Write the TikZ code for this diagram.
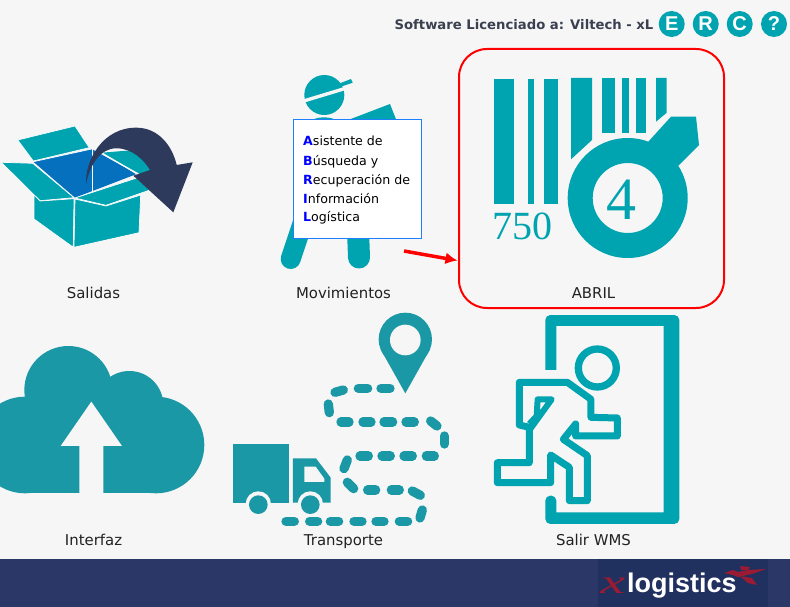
\documentclass[tikz,border=0pt]{standalone}
\usepackage{fontspec}
\usetikzlibrary{arrows.meta}
\setmainfont{DejaVu Sans}
\newfontfamily\serifnum{Liberation Serif}
\newfontfamily\arialf{Liberation Sans}
\definecolor{pagebg}{HTML}{F6F6F6}
\definecolor{tealA}{HTML}{00A3B0}
\definecolor{tealB}{HTML}{1B98A5}
\definecolor{boxblue}{HTML}{0470BE}
\definecolor{darknavy}{HTML}{2D3A5C}
\definecolor{footer}{HTML}{2B3766}
\definecolor{logobg}{HTML}{20305F}
\definecolor{logored}{HTML}{9A1B32}
\definecolor{tipline}{HTML}{1E80FF}
\definecolor{labeltext}{HTML}{222222}
\definecolor{toptext}{HTML}{3A4050}
\tikzset{
  iconlabel/.style={font=\fontsize{14.9}{17}\selectfont,text=labeltext,inner sep=0pt,anchor=base},
  topbtn/.style={circle,fill=tealA,minimum size=26pt,inner sep=0pt,text=white,font=\arialf\bfseries\fontsize{20}{20}\selectfont},
  flap/.style={fill=tealA,draw=white,line width=0.7pt,line join=round},
  routedash/.style={line width=9.3pt,line cap=round,draw=tealB},
  runner/.style={draw=tealA,line width=7pt,line join=round},
}
\newcommand{\blt}[1]{{\bfseries\color{blue}#1}}
\begin{document}
\begin{tikzpicture}[x=1pt,y=-1pt]
\useasboundingbox (0,0) rectangle (790,607);
\clip (0,0) rectangle (790,607);
\fill[pagebg] (0,0) rectangle (790,607);
% footer
\fill[footer] (0,559) rectangle (790,607);
\fill[logobg] (598,559) rectangle (768,607);
\node[anchor=base west,inner sep=0pt,text=logored,xscale=1.65,font=\serifnum\itshape\fontsize{34}{34}\selectfont] (logox) at (600,593) {x};
\node[anchor=base west,inner sep=0pt,text=white,font=\arialf\bfseries\fontsize{27}{27}\selectfont] (logotext) at (627,592) {logistics};
\fill[logored] (724,573) -- (733,570) -- (738,572) -- (748,570) -- (766,569) -- (752,574) -- (738,577) -- (733,575) -- cycle;
\fill[logored] (740,576) -- (752,578) -- (757,585) -- (748,583) -- cycle;
\fill[logored] (740,566) -- (750,567) -- (748,570) -- (741,570) -- cycle;
% header
\node[anchor=base,inner sep=0pt,text=toptext,font=\bfseries\fontsize{13.2}{15}\selectfont] (lic) at (524,30) {Software Licenciado a: Viltech - xL};
\node[topbtn] (btnE) at (671.7,24) {E};
\node[topbtn] (btnR) at (705.7,24) {R};
\node[topbtn] (btnC) at (739.7,24) {C};
\node[topbtn] (btnQ) at (774,24) {?};
% ===== Salidas box
\filldraw[flap] (17.7,140) -- (75,126) -- (89.3,147.7) -- (33.3,161) -- cycle;
\fill[boxblue] (33.3,161.7) -- (91.7,149) -- (136.7,174) -- (75,197.7) -- cycle;
\fill[tealA] (102,152.7) -- (140,174) -- (152,170) -- (135,150) -- cycle;
\draw[white,line width=0.7pt] (33.3,161.7) -- (91.7,149) (102,152.7) -- (136.7,174);
\draw[white,line width=0.7pt] (92,149) -- (92,192);
\filldraw[flap] (1.2,162.3) -- (32.7,163.3) -- (74,197.7) -- (40,200.7) -- cycle;
\filldraw[flap] (75,198) -- (136.7,178) -- (150,190) -- (106,205.3) -- cycle;
\filldraw[flap] (34,195) -- (40,201) -- (74,198.7) -- (73.3,247.3) -- (34,219) -- cycle;
\filldraw[flap] (75,199) -- (106,206) -- (140.7,195) -- (139,232.7) -- (74,247.3) -- cycle;
\fill[darknavy] (86,184) .. controls (85,160) and (103,127) .. (137,127.7) .. controls (158,128) and (172,145) .. (176.7,165)
  -- (192.7,162.3) -- (173.3,212.3) -- (133.3,175.7) -- (150,170)
  .. controls (144,160) and (132,148) .. (116,148.3) .. controls (100,148.5) and (90,165) .. (86,184) -- cycle;
\node[iconlabel] (salidas) at (93.5,298) {Salidas};
% ===== Movimientos worker
\fill[tealA] (324.3,95) circle (20);
\draw[pagebg,line width=3.4pt] (302,101.5) -- (350,87);
\fill[tealA] (338,84) -- (351,79) -- (352.7,82.7) -- (339,87.3) -- cycle;
\fill[tealA] (350,119.3) -- (390,104) -- (396,119.3) -- cycle;
\fill[tealA] (313,120) .. controls (316,116.5) and (332,116.5) .. (335,120) -- cycle;
\draw[tealA,line width=20pt,line cap=round] (303,222) -- (290.7,259);
\draw[tealA,line width=22pt,line cap=round] (358,230) -- (359,257.5);
\node[iconlabel] (movs) at (343.5,298) {Movimientos};
\node[draw=tipline,fill=white,line width=0.8pt,minimum width=127.4pt,minimum height=119pt,inner sep=0pt,anchor=north west] (tip) at (293.3,119.3) {};
\foreach \yy/\tt in {146/{\blt{A}sistente de},165/{\blt{B}úsqueda y},184/{\blt{R}ecuperación de},203/{\blt{I}nformación},221.5/{\blt{L}ogística}}{
  \node[anchor=base west,inner sep=0pt,font=\fontsize{12.6}{15}\selectfont,text=black] at (303,\yy) {\tt};
}
% ===== ABRIL
\node[draw=red,line width=2pt,rounded corners=28pt,minimum width=265pt,minimum height=259pt,inner sep=0pt,anchor=north west] (abrilbox) at (458,48) {};
\fill[tealA] (494,79) rectangle (514,204);
\fill[tealA] (528,79) rectangle (534,204);
\fill[tealA] (544,79) rectangle (558,204);
\fill[tealA] (571,78) -- (592,78) -- (592,140) -- (571,159.3) -- cycle;
\fill[tealA] (602,78) rectangle (615,132.7);
\fill[tealA] (622.3,78) rectangle (629,132.7);
\fill[tealA] (636,78) rectangle (646,132.7);
\fill[tealA] (656,78) -- (666.7,78) -- (666.7,112.7) -- (656,121.7) -- cycle;
\fill[tealA,even odd rule] (627.7,198) circle (60) (627.7,198) circle (35);
\fill[tealA] (648.3,141.7) -- (671,116.7) -- (696,116.7) -- (699,145) -- (678.3,165.7) -- cycle;
\node[anchor=base,inner sep=0pt,text=tealA,font=\serifnum\fontsize{60}{60}\selectfont] (four) at (621.5,219) {4};
\node[anchor=base west,inner sep=0pt,text=tealA,font=\serifnum\fontsize{40}{40}\selectfont] (barnum) at (492,239.3) {750};
\node[iconlabel] (abril) at (593.5,298) {ABRIL};
% red arrow
\coordinate (arrowA) at (404,251);
\coordinate (arrowB) at (457.5,260.5);
\draw[red,line width=3.5pt,-{Latex[length=12pt,width=12pt]}] (arrowA) -- (arrowB);
% ===== Interfaz cloud
\begin{scope}[shift={(0,340)},x=0.3333pt,y=-0.3333pt]
\fill[tealB] (205,150) circle (132);
\fill[tealB] (388,195) circle (102);
\fill[tealB] (468,315) circle (145);
\fill[tealB] (75,315) circle (145);
\fill[tealB] (75,170) rectangle (468,460);
\fill[pagebg] (274,185) -- (366,318) -- (310,318) -- (310,460) -- (238,460) -- (238,318) -- (182,318) -- cycle;
\end{scope}
\node[iconlabel] (interfaz) at (93.5,545) {Interfaz};
% ===== Transporte
\begin{scope}[shift={(225,310)},x=0.3333pt,y=-0.3333pt]
\fill[tealB] (541,88) circle (80);
\fill[tealB] (467,118) -- (541,250) -- (615,118) -- cycle;
\fill[pagebg] (541,90) circle (46);
\foreach \a/\b/\c/\d in {400/235/428/235,468/235/495/235,330/247/355/240,310/282/313/308,348/336/372/336,414/336/438/336,477/336/503/336,543/336/568/336,617/333/636/348,658/378/658/402,405/438/430/438,471/438/496/438,537/438/562/438,604/438/628/438,367/450/357/476,367/517/386/536,428/540/452/540,499/540/523/540,562/543/586/556,592/600/585/624,183/634/208/634,254/634/278/634,316/634/341/634,387/634/411/634,453/634/477/634,523/634/548/634}{
  \draw[routedash] (\a,\b) -- (\c,\d);
}
\fill[tealB] (25,403) rectangle (192,580);
\fill[tealB] (204,445) -- (273,445) -- (317,503) -- (317,578) -- (204,578) -- cycle;
\fill[pagebg] (238,470) -- (272,470) -- (298,506) -- (298,516) -- (238,516) -- cycle;
\fill[pagebg] (100,582) circle (38);
\fill[tealB] (100,584) circle (28);
\fill[pagebg] (256,582) circle (38);
\fill[tealB] (256,584) circle (28);
\end{scope}
\node[iconlabel] (transporte) at (343.5,545) {Transporte};
% ===== Salir WMS
\begin{scope}[shift={(480,310)},x=0.3333pt,y=-0.3333pt]
\fill[tealA,rounded corners=5pt] (196,180) -- (196,15) -- (598,15) -- (598,642) -- (196,642) -- (196,557) -- (229,557) [sharp corners] -- (229,607) -- (551,607) -- (551,48) -- (229,48) -- (229,180) -- cycle;
\draw[tealA,line width=7.3pt] (352,174) circle (57);
\draw[runner] (118,217) -- (262,217) -- (333,268) -- (333,322) -- (412,324) -- (412,378) -- (287,378) -- (287,342) -- (250,388) -- (322,437) -- (322,572) -- (268,572) -- (268,472) -- (212,435) -- (212,518) -- (52,518) -- (52,458) -- (148,458) -- (148,352) -- (118,345) -- cycle;
\draw[tealA,line width=6pt,line join=round] (150,358) -- (215,268) -- (173,268) -- (170,318) -- (148,342);
\end{scope}
\node[iconlabel] (salir) at (593.5,545) {Salir WMS};
\end{tikzpicture}
\end{document}
